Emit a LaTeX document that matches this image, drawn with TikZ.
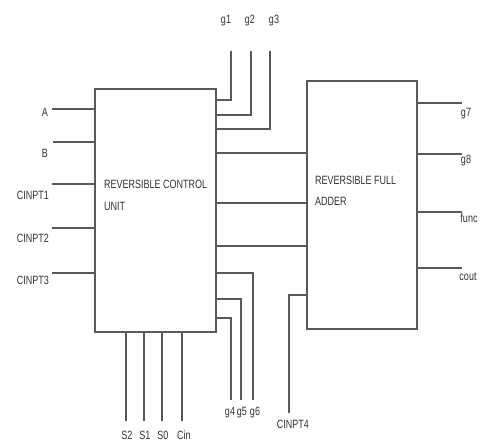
\documentclass[tikz,border=0pt]{standalone}
\usepackage{fontspec}
\setmainfont{Liberation Sans}[FakeStretch=0.75]
\begin{document}
\begin{tikzpicture}[x=1pt,y=-1pt,
  wire/.style={draw=black!65,line width=1.2pt},
  blk/.style={draw=black!65,line width=1.2pt,rectangle,inner sep=0pt},
  lbl/.style={font=\fontsize{12}{14}\selectfont,text=black!80,inner sep=0pt},
  btxt/.style={font=\fontsize{12}{14}\selectfont,text=black!80,inner sep=0pt,anchor=west}]
\useasboundingbox (0,0) rectangle (480,443);
\fill[white] (0,0) rectangle (480,443);
% boxes
\node[blk,minimum width=121pt,minimum height=243pt] (cu) at (155.5,210.5) {};
\node[blk,minimum width=110pt,minimum height=248pt] (fa) at (362,205) {};
\node[btxt] (cut1) at (104,184) {REVERSIBLE CONTROL};
\node[btxt] (cut2) at (104,206) {UNIT};
\node[btxt] (fat1) at (315,180) {REVERSIBLE FULL};
\node[btxt] (fat2) at (315,201) {ADDER};
% left inputs
\coordinate (iA) at (52,109);
\coordinate (iB) at (53,142);
\coordinate (i1) at (52,184);
\coordinate (i2) at (52,228);
\coordinate (i3) at (52,273);
\draw[wire] (iA) -- (iA -| cu.west);
\draw[wire] (iB) -- (iB -| cu.west);
\draw[wire] (i1) -- (i1 -| cu.west);
\draw[wire] (i2) -- (i2 -| cu.west);
\draw[wire] (i3) -- (i3 -| cu.west);
\node[lbl] (lA) at (45,112) {A};
\node[lbl] (lB) at (45,153) {B};
\node[lbl] (l1) at (33,195) {CINPT1};
\node[lbl] (l2) at (33,238) {CINPT2};
\node[lbl] (l3) at (33,280) {CINPT3};
% top outputs
\coordinate (g1t) at (231,51); \coordinate (g1c) at (231,100);
\coordinate (g2t) at (251,51); \coordinate (g2c) at (251,115);
\coordinate (g3t) at (270,51); \coordinate (g3c) at (270,129);
\draw[wire] (g1t) -- (g1c) -- (g1c -| cu.east);
\draw[wire] (g2t) -- (g2c) -- (g2c -| cu.east);
\draw[wire] (g3t) -- (g3c) -- (g3c -| cu.east);
\node[lbl] (lg1) at (226,21) {g1};
\node[lbl] (lg2) at (250,21) {g2};
\node[lbl] (lg3) at (274,21) {g3};
% middle connections
\coordinate (m1) at (260,153);
\coordinate (m2) at (260,203);
\coordinate (m3) at (260,246);
\draw[wire] (m1 -| cu.east) -- (m1 -| fa.west);
\draw[wire] (m2 -| cu.east) -- (m2 -| fa.west);
\draw[wire] (m3 -| cu.east) -- (m3 -| fa.west);
% bottom outputs g4 g5 g6
\coordinate (g6b) at (253,400); \coordinate (g6c) at (253,273);
\coordinate (g5b) at (241,400); \coordinate (g5c) at (241,299);
\coordinate (g4b) at (231,400); \coordinate (g4c) at (231,318);
\draw[wire] (g6b) -- (g6c) -- (g6c -| cu.east);
\draw[wire] (g5b) -- (g5c) -- (g5c -| cu.east);
\draw[wire] (g4b) -- (g4c) -- (g4c -| cu.east);
\node[lbl] (lg4) at (230,413) {g4};
\node[lbl] (lg5) at (242,413) {g5};
\node[lbl] (lg6) at (255,413) {g6};
% CINPT4
\coordinate (c4b) at (289,413); \coordinate (c4c) at (289,295);
\draw[wire] (c4b) -- (c4c) -- (c4c -| fa.west);
\node[lbl] (lc4) at (293,424) {CINPT4};
% bottom inputs
\coordinate (s2) at (126,421);
\coordinate (s1) at (144,421);
\coordinate (s0) at (162,421);
\coordinate (ci) at (182,421);
\draw[wire] (s2) -- (s2 |- cu.south);
\draw[wire] (s1) -- (s1 |- cu.south);
\draw[wire] (s0) -- (s0 |- cu.south);
\draw[wire] (ci) -- (ci |- cu.south);
\node[lbl] (ls2) at (127,435) {S2};
\node[lbl] (ls1) at (145,435) {S1};
\node[lbl] (ls0) at (163,435) {S0};
\node[lbl] (lci) at (184,435) {Cin};
% right outputs
\coordinate (o7) at (462,103);
\coordinate (o8) at (462,154);
\coordinate (of) at (462,212);
\coordinate (oc) at (462,268);
\draw[wire] (o7 -| fa.east) -- (o7);
\draw[wire] (o8 -| fa.east) -- (o8);
\draw[wire] (of -| fa.east) -- (of);
\draw[wire] (oc -| fa.east) -- (oc);
\node[lbl] (lo7) at (466,114) {g7};
\node[lbl] (lo8) at (466,161) {g8};
\node[lbl] (lof) at (469,218) {func};
\node[lbl] (loc) at (468,277) {cout};
\end{tikzpicture}
\end{document}
